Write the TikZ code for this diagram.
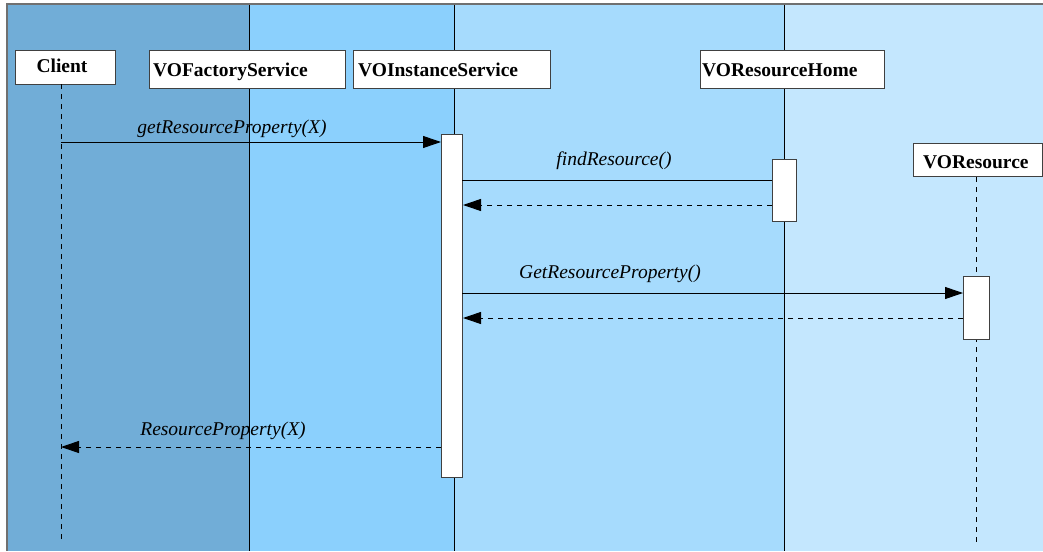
\documentclass[tikz,border=0pt]{standalone}
\usepackage{fontspec}
\setmainfont{Liberation Serif}
\usetikzlibrary{arrows.meta}
\definecolor{laneA}{HTML}{71ADD7}
\definecolor{laneB}{HTML}{8BD0FD}
\definecolor{laneC}{HTML}{A6DBFD}
\definecolor{laneD}{HTML}{C4E7FE}
\definecolor{frame}{HTML}{707070}
\definecolor{boxline}{HTML}{404040}
\tikzset{
  obj/.style={draw=boxline, line width=1pt, fill=white, inner sep=0pt, anchor=north west},
  objtext/.style={font=\fontsize{19.5}{22}\selectfont\bfseries, anchor=base west, inner sep=0pt},
  act/.style={draw=boxline, line width=1pt, fill=white, inner sep=0pt, anchor=north west},
  life/.style={line width=1pt, dash pattern=on 5pt off 5pt},
  lane/.style={line width=1pt},
  call/.style={line width=1pt, -{Triangle[length=18pt, width=12pt]}},
  callplain/.style={line width=1pt},
  reply/.style={line width=1pt, dash pattern=on 5pt off 5pt, -{Triangle[length=18pt, width=12pt]}},
  msg/.style={font=\fontsize{19.5}{22}\selectfont\itshape, anchor=base, inner sep=0pt},
}
\begin{document}
\begin{tikzpicture}[x=1pt, y=-1pt]
\useasboundingbox (0,0) rectangle (1043,551);
\fill[white] (0,0) rectangle (1043,551);
% swim lanes
\fill[laneA] (7,4) rectangle (249,551);
\fill[laneB] (249,4) rectangle (454,551);
\fill[laneC] (454,4) rectangle (784,551);
\fill[laneD] (784,4) rectangle (1043,551);
\draw[frame, line width=2pt] (7,551) -- (7,4) -- (1043,4);
\draw[lane] (249,5) -- (249,551);
\draw[lane] (454,5) -- (454,551);
\draw[lane] (784,5) -- (784,551);

% objects
\node[obj, minimum width=100pt, minimum height=34pt] (client) at (15,50) {};
\node[objtext, anchor=base] at (62,73) {Client};
\node[obj, minimum width=196pt, minimum height=38pt] (factory) at (149,50) {};
\node[objtext] at (153,76) {VOFactoryService};
\node[obj, minimum width=197pt, minimum height=38pt] (instance) at (353,50) {};
\node[objtext] at (358,76) {VOInstanceService};
\node[obj, minimum width=184pt, minimum height=38pt] (home) at (700,50) {};
\node[objtext] at (702,76) {VOResourceHome};
\node[obj, minimum width=129pt, minimum height=33pt] (res) at (913,143) {};
\node[objtext] at (923,168) {VOResource};

% lifeline ends
\coordinate (clientEnd) at (61,543);
\coordinate (resEnd) at (976,545);
\draw[life] (61,84) -- (clientEnd);
\draw[life] (res.south -| resEnd) -- (resEnd);

% activations
\node[act, minimum width=21pt, minimum height=343pt] (actI) at (441,134) {};
\node[act, minimum width=24pt, minimum height=62pt] (actH) at (772,159) {};
\node[act, minimum width=26pt, minimum height=63pt] (actR) at (963,276) {};

% messages
\coordinate (c1) at (61,142);
\draw[call] (c1) -- (actI.west |- c1);
\node[msg] at (232,133) {getResourceProperty(X)};

\coordinate (m2) at (462,180);
\draw[callplain] (m2) -- (actH.west |- m2);
\node[msg] at (614,165) {findResource()};
\coordinate (r2) at (772,205);
\draw[reply] (r2) -- (actI.east |- r2);

\coordinate (m3) at (462,293);
\draw[call] (m3) -- (actR.west |- m3);
\node[msg] at (610,278) {GetResourceProperty()};
\coordinate (r3) at (963,318);
\draw[reply] (r3) -- (actI.east |- r3);

\coordinate (r1) at (441,447);
\draw[reply] (r1) -- (clientEnd |- r1);
\node[msg] at (223,435) {ResourceProperty(X)};
\end{tikzpicture}
\end{document}
